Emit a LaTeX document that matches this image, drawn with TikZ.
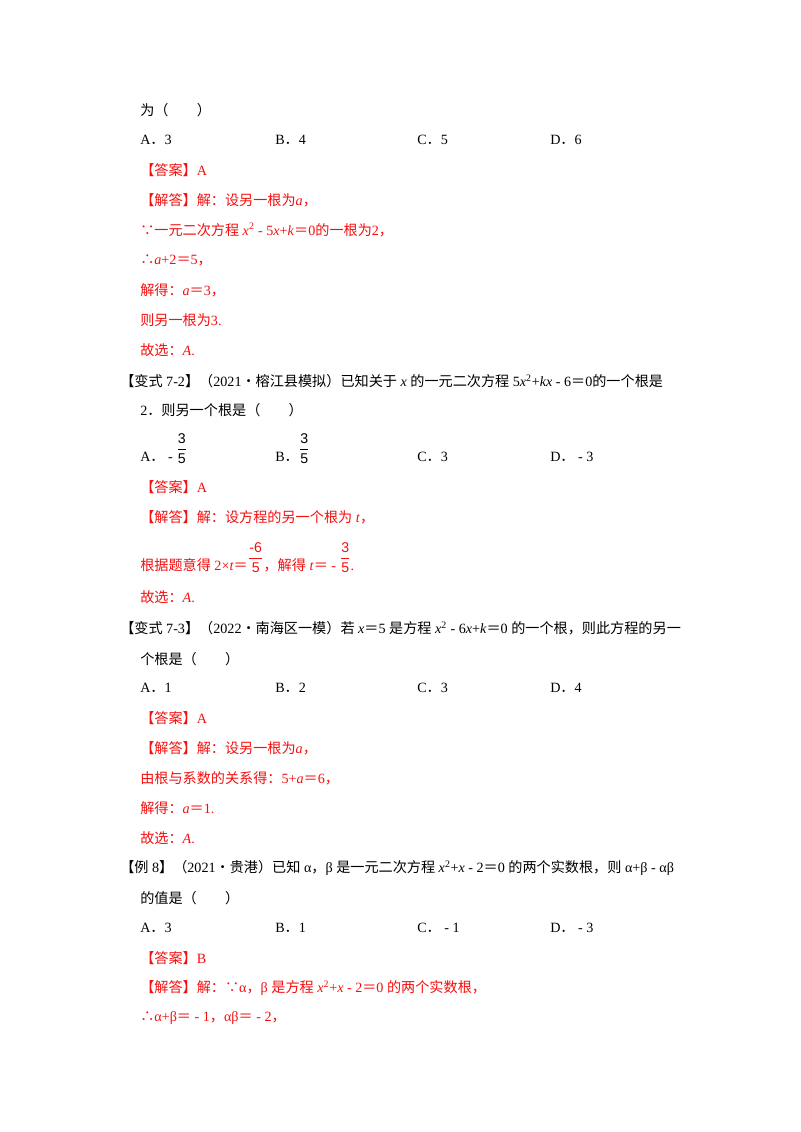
\documentclass[tikz,border=0pt]{standalone}
\usepackage{amsmath}
\usepackage{fontspec}
\setmainfont{Liberation Serif}
\setsansfont{Liberation Sans}
\newfontfamily\zhf{Noto Sans CJK SC}
\newcommand\zh[1]{{\zhf #1}}
\newcommand\fr[2]{\raisebox{0.55em}{$\genfrac{}{}{0.5pt}{0}{\text{\sffamily #1}}{\text{\sffamily #2}}$}}
\definecolor{ansred}{RGB}{245,15,15}
\begin{document}
\begin{tikzpicture}[x=0.75pt,y=-0.75pt,
  ln/.style={anchor=west,inner sep=0pt,font=\fontsize{10.6}{13}\selectfont},
  rd/.style={ln,text=ansred}]
\useasboundingbox[fill=white] (0,0) rectangle (800,1132);
\node[ln] (l1) at (140,110) {\zh{为（　　）}};
\node[ln] (o1a) at (140,140) {A\zh{．}3};
\node[ln] (o1b) at (275,140) {B\zh{．}4};
\node[ln] (o1c) at (417,140) {C\zh{．}5};
\node[ln] (o1d) at (550,140) {D\zh{．}6};
\node[rd] (l3) at (140,170) {\zh{【答案】}A};
\node[rd] (l4) at (140,200) {\zh{【解答】解：设另一根为}\textit{a}\zh{，}};
\node[rd] (l5) at (140,230) {\zh{∵一元二次方程} \textit{x}\textsuperscript{2} - 5\textit{x}+\textit{k}\zh{＝}0\zh{的一根为}2\zh{，}};
\node[rd] (l6) at (140,260) {\zh{∴}\textit{a}+2\zh{＝}5\zh{，}};
\node[rd] (l7) at (140,290) {\zh{解得：}\textit{a}\zh{＝}3\zh{，}};
\node[rd] (l8) at (140,320) {\zh{则另一根为}3.};
\node[rd] (l9) at (140,350) {\zh{故选：}\textit{A}.};
\node[ln] (l10) at (120,381) {\zh{【变式} 7-2\zh{】（}2021\zh{•榕江县模拟）已知关于} \textit{x} \zh{的一元二次方程} 5\textit{x}\textsuperscript{2}+\textit{kx} - 6\zh{＝}0\zh{的一个根是}};
\node[ln] (l11) at (140,410) {2\zh{．则另一个根是（　　）}};
\node[ln,anchor=base west] (o2a) at (140,461) {A\zh{．} - \fr{3}{5}};
\node[ln,anchor=base west] (o2b) at (275,461) {B\zh{．}\fr{3}{5}};
\node[ln,anchor=base west] (o2c) at (417,461) {C\zh{．}3};
\node[ln,anchor=base west] (o2d) at (550,461) {D\zh{．} - 3};
\node[rd] (l13) at (140,487) {\zh{【答案】}A};
\node[rd] (l14) at (140,517) {\zh{【解答】解：设方程的另一个根为} \textit{t}\zh{，}};
\node[rd,anchor=base west] (l15) at (140,570) {\zh{根据题意得} 2×\textit{t}\zh{＝}\fr{-6}{5}\zh{，解得} \textit{t}\zh{＝} - \fr{3}{5}.};
\node[rd] (l16) at (140,597) {\zh{故选：}\textit{A}.};
\node[ln] (l17) at (120,628) {\zh{【变式} 7-3\zh{】（}2022\zh{•南海区一模）若} \textit{x}\zh{＝}5 \zh{是方程} \textit{x}\textsuperscript{2} - 6\textit{x}+\textit{k}\zh{＝}0 \zh{的一个根，则此方程的另一}};
\node[ln] (l18) at (140,659) {\zh{个根是（　　）}};
\node[ln] (o3a) at (140,688) {A\zh{．}1};
\node[ln] (o3b) at (275,688) {B\zh{．}2};
\node[ln] (o3c) at (417,688) {C\zh{．}3};
\node[ln] (o3d) at (550,688) {D\zh{．}4};
\node[rd] (l20) at (140,718) {\zh{【答案】}A};
\node[rd] (l21) at (140,748) {\zh{【解答】解：设另一根为}\textit{a}\zh{，}};
\node[rd] (l22) at (140,778) {\zh{由根与系数的关系得：}5+\textit{a}\zh{＝}6\zh{，}};
\node[rd] (l23) at (140,808) {\zh{解得：}\textit{a}\zh{＝}1.};
\node[rd] (l24) at (140,838) {\zh{故选：}\textit{A}.};
\node[ln] (l25) at (120,868) {\zh{【例} 8\zh{】（}2021\zh{•贵港）已知} α\zh{，}β \zh{是一元二次方程} \textit{x}\textsuperscript{2}+\textit{x} - 2\zh{＝}0 \zh{的两个实数根，则} α+β - αβ};
\node[ln] (l26) at (140,898) {\zh{的值是（　　）}};
\node[ln] (o4a) at (140,928) {A\zh{．}3};
\node[ln] (o4b) at (275,928) {B\zh{．}1};
\node[ln] (o4c) at (417,928) {C\zh{．} - 1};
\node[ln] (o4d) at (550,928) {D\zh{．} - 3};
\node[rd] (l28) at (140,958) {\zh{【答案】}B};
\node[rd] (l29) at (140,988) {\zh{【解答】解：∵}α\zh{，}β \zh{是方程} \textit{x}\textsuperscript{2}+\textit{x} - 2\zh{＝}0 \zh{的两个实数根，}};
\node[rd] (l30) at (140,1018) {\zh{∴}α+β\zh{＝} - 1\zh{，}αβ\zh{＝} - 2\zh{，}};
\end{tikzpicture}
\end{document}
